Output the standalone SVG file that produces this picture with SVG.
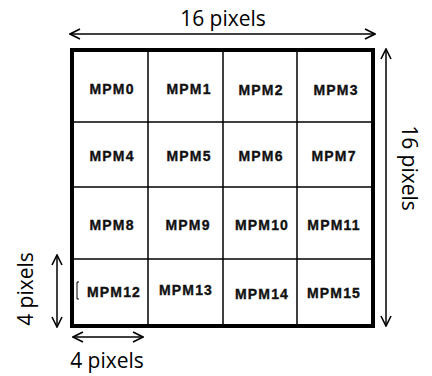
<svg xmlns="http://www.w3.org/2000/svg" width="432" height="376" viewBox="0 0 432 376">
<defs>
<marker id="ah" viewBox="0 0 12 12" refX="11" refY="6" markerWidth="12" markerHeight="12" markerUnits="userSpaceOnUse" orient="auto-start-reverse">
<path d="M1,1 L11,6 L1,11" fill="none" stroke="#000" stroke-width="1.6"/>
</marker>
<style>
.dim{font-family:"Open Sans","Noto Sans",sans-serif;font-size:21px;fill:#000}
.lbl{font-family:"Liberation Sans",Arial,sans-serif;font-size:14px;font-weight:bold;fill:#111;stroke:#111;stroke-width:0.35;text-anchor:middle;letter-spacing:1.2px}
.grid{stroke:#000;stroke-width:1.5;fill:none}
.arr{stroke:#000;stroke-width:1.5;fill:none;marker-start:url(#ah);marker-end:url(#ah)}
</style>
</defs>
<rect width="432" height="376" fill="#fff"/>
<g id="grid">
<line class="grid" x1="148" y1="50" x2="148" y2="326"/>
<line class="grid" x1="223" y1="50" x2="223" y2="326"/>
<line class="grid" x1="297" y1="50" x2="297" y2="326"/>
<line class="grid" x1="72" y1="122" x2="373" y2="122"/>
<line class="grid" x1="72" y1="187" x2="373" y2="187"/>
<line class="grid" x1="72" y1="259" x2="373" y2="259"/>
<rect x="72" y="50" width="301" height="276" fill="none" stroke="#000" stroke-width="4"/>
</g>
<g id="cells">
<g id="mpm0"><text class="lbl" x="112" y="94">MPM0</text></g>
<g id="mpm1"><text class="lbl" x="189" y="94">MPM1</text></g>
<g id="mpm2"><text class="lbl" x="261" y="95">MPM2</text></g>
<g id="mpm3"><text class="lbl" x="336" y="95">MPM3</text></g>
<g id="mpm4"><text class="lbl" x="112" y="161">MPM4</text></g>
<g id="mpm5"><text class="lbl" x="189" y="161">MPM5</text></g>
<g id="mpm6"><text class="lbl" x="261" y="161">MPM6</text></g>
<g id="mpm7"><text class="lbl" x="334" y="161">MPM7</text></g>
<g id="mpm8"><text class="lbl" x="112" y="230">MPM8</text></g>
<g id="mpm9"><text class="lbl" x="188" y="230">MPM9</text></g>
<g id="mpm10"><text class="lbl" x="262" y="230">MPM10</text></g>
<g id="mpm11"><text class="lbl" x="334" y="230">MPM11</text></g>
<g id="mpm12"><text class="lbl" x="114" y="297">MPM12</text></g>
<g id="mpm13"><text class="lbl" x="186" y="295">MPM13</text></g>
<g id="mpm14"><text class="lbl" x="262" y="299">MPM14</text></g>
<g id="mpm15"><text class="lbl" x="334" y="298">MPM15</text></g>
</g>
<path d="M79,282 L77,282 L77,299 L79,299" fill="none" stroke="#000" stroke-width="1"/>
<g id="connectors">
<line class="arr" x1="70" y1="34" x2="375" y2="34"/>
<line class="arr" x1="386" y1="49" x2="386" y2="326"/>
<line class="arr" x1="57" y1="255" x2="57" y2="327"/>
<line class="arr" x1="73" y1="337" x2="143" y2="337"/>
</g>
<g id="dims">
<text class="dim" x="223" y="26" text-anchor="middle">16 pixels</text>
<text class="dim" transform="translate(402,168) rotate(90)" text-anchor="middle">16 pixels</text>
<text class="dim" transform="translate(33,289) rotate(-90)" text-anchor="middle">4 pixels</text>
<text class="dim" x="107" y="368" text-anchor="middle">4 pixels</text>
</g>
</svg>
